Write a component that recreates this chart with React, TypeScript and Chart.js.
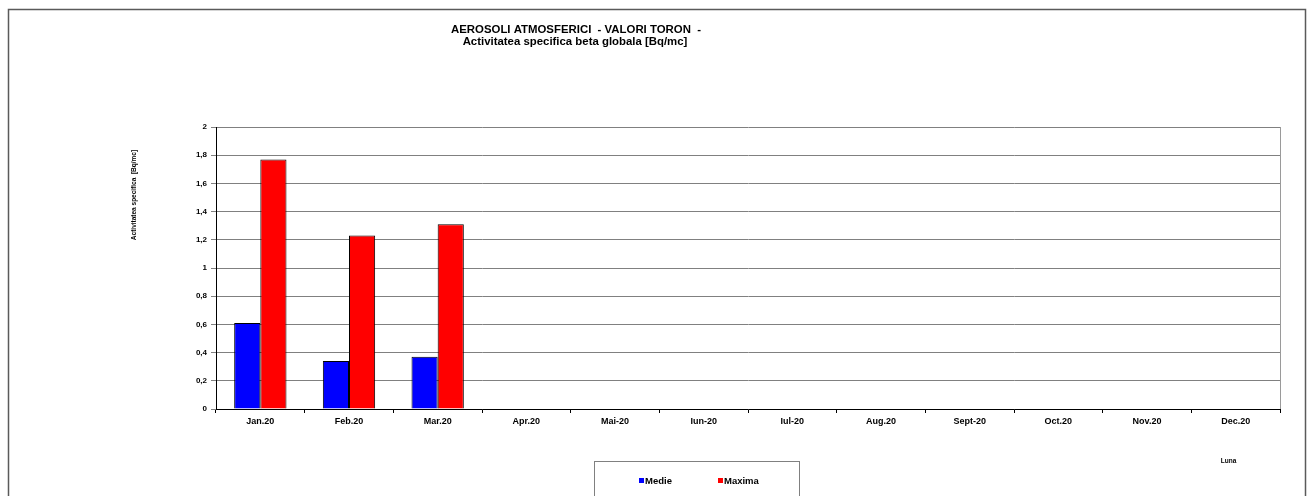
import React, { useEffect, useRef } from "react";
import { Chart, registerables } from "chart.js";

Chart.register(...registerables);

const months = ["Jan.20", "Feb.20", "Mar.20", "Apr.20", "Mai-20", "Iun-20", "Iul-20", "Aug.20", "Sept-20", "Oct.20", "Nov.20", "Dec.20"];
const medie = [0.61, 0.34, 0.37, null, null, null, null, null, null, null, null, null];
const maxima = [1.77, 1.23, 1.31, null, null, null, null, null, null, null, null, null];
const titleLines = ["AEROSOLI ATMOSFERICI  - VALORI TORON  -", "Activitatea specifica beta globala [Bq/mc]"];
const yTitle = "Activitatea specifica  [Bq/mc]";
const xTitle = "Luna";

const W = 1311;
const H = 496;
const FONT = "'Liberation Sans', Arial, sans-serif";

const decor = {
  id: "decor",
  afterDraw(chart: any) {
    const ctx = chart.ctx;
    const a = chart.chartArea;
    ctx.save();
    // outer border
    ctx.strokeStyle = "#5a5a5a";
    ctx.lineWidth = 1.5;
    ctx.strokeRect(8.5, 9.5, 1297, 520);
    // plot right border
    ctx.strokeStyle = "#9a9a9a";
    ctx.lineWidth = 1;
    ctx.beginPath();
    ctx.moveTo(Math.round(a.right) + 0.5, a.top);
    ctx.lineTo(Math.round(a.right) + 0.5, a.bottom);
    ctx.stroke();
    // title
    ctx.fillStyle = "#000";
    ctx.textAlign = "center";
    ctx.textBaseline = "middle";
    ctx.font = `bold 11.4px ${FONT}`;
    ctx.fillText(titleLines[0], 576, 30);
    ctx.fillText(titleLines[1], 575, 42);
    // y title
    ctx.save();
    ctx.translate(134, 195);
    ctx.rotate(-Math.PI / 2);
    ctx.font = `bold 6.5px ${FONT}`;
    ctx.fillText(yTitle, 0, 0);
    ctx.restore();
    // x title
    ctx.font = `bold 6.5px ${FONT}`;
    ctx.fillText(xTitle, 1228.5, 461.5);
    // legend box
    ctx.strokeStyle = "#808080";
    ctx.lineWidth = 1;
    ctx.strokeRect(594.5, 461.5, 205, 50);
    const items = chart.data.datasets.map((d: any) => ({ label: d.label, color: d.backgroundColor }));
    const xs = [639, 718];
    ctx.font = `bold 9.5px ${FONT}`;
    ctx.textAlign = "left";
    items.forEach((it: any, i: number) => {
      ctx.fillStyle = it.color;
      ctx.fillRect(xs[i], 478, 5, 5);
      ctx.fillStyle = "#000";
      ctx.fillText(it.label, xs[i] + 6, 481);
    });
    ctx.restore();
  },
};

export default function App() {
  const ref = useRef<HTMLCanvasElement>(null);
  useEffect(() => {
    if (!ref.current) return;
    const chart = new Chart(ref.current, {
      type: "bar",
      data: {
        labels: months,
        datasets: [
          { label: "Medie", data: medie, backgroundColor: "#0000ff", borderColor: "#000", borderWidth: 1 },
          { label: "Maxima", data: maxima, backgroundColor: "#ff0000", borderColor: "#000", borderWidth: 1 },
        ],
      },
      options: {
        responsive: false,
        animation: false,
        devicePixelRatio: 1,
        layout: { padding: { left: 0, top: 127, right: 31, bottom: 0 } },
        plugins: { legend: { display: false }, title: { display: false }, tooltip: { enabled: false } },
        datasets: { bar: { barPercentage: 1, categoryPercentage: 0.59 } },
        scales: {
          x: {
            grid: { drawOnChartArea: false, offset: true, tickLength: 4, color: "#000" },
            border: { color: "#000" },
            ticks: { color: "#000", font: { family: FONT, size: 9, weight: "bold" }, padding: 3, maxRotation: 0, autoSkip: false },
            afterFit(scale: any) { scale.height = 87; },
          },
          y: {
            min: 0,
            max: 2,
            grid: { color: "#808080", tickLength: 5 },
            border: { color: "#000" },
            ticks: {
              stepSize: 0.2,
              color: "#000",
              padding: 4,
              font: { family: FONT, size: 8, weight: "bold" },
              callback: (v: any) => {
                const n = Math.round(Number(v) * 10) / 10;
                return Number.isInteger(n) ? String(n) : n.toFixed(1).replace(".", ",");
              },
            },
            afterFit(scale: any) { scale.width = 216; },
          },
        },
      },
      plugins: [decor],
    } as any);
    return () => chart.destroy();
  }, []);
  return (
    <div style={{ position: "fixed", left: 0, top: 0, width: W, height: H, background: "#fff" }}>
      <canvas ref={ref} width={W} height={H} style={{ width: W, height: H, display: "block" }} />
    </div>
  );
}
